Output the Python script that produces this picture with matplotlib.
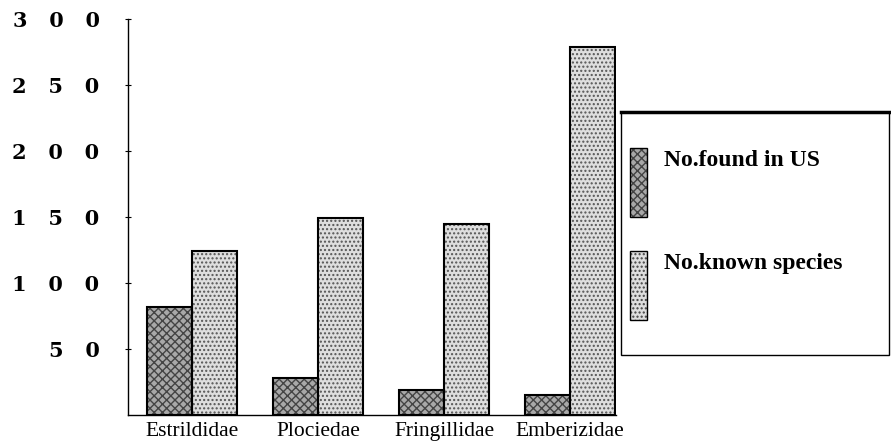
import numpy as np
import matplotlib
matplotlib.use("Agg")
from matplotlib import pyplot as plt
from matplotlib.patches import Rectangle

families = ["Estrildidae", "Plociedae", "Fringillidae", "Emberizidae"]
found_in_us = [82, 28, 19, 15]
known_species = [124, 149, 145, 279]
series = ["No.found in US", "No.known species"]
yticks = [50, 100, 150, 200, 250, 300]
ytick_labels = ["5   0", "1   0   0", "1   5   0", "2   0   0", "2   5   0", "3   0   0"]

dark = "#a8a8a8"
light = "#dedede"

fig = plt.figure(figsize=(8.91, 4.42), dpi=100)
ax = fig.add_axes([128/891, 1 - 415/442, (616-128)/891, (415-19)/442])

x = np.arange(len(families))
w = 0.357

# fill with hatch first, then black outline on top
ax.bar(x - w/2, found_in_us, w, color=dark, edgecolor="#444444", hatch="xxxx", linewidth=0)
ax.bar(x + w/2, known_species, w, color=light, edgecolor="#555555", hatch="....", linewidth=0)
ax.bar(x - w/2, found_in_us, w, fill=False, edgecolor="black", linewidth=1.5)
ax.bar(x + w/2, known_species, w, fill=False, edgecolor="black", linewidth=1.5)

ax.set_xlim(-0.508, 3.365)
ax.set_ylim(0, 300)
ax.set_xticks(x)
ax.set_xticklabels(families, family="Liberation Serif", fontsize=15.5)
ax.tick_params(axis="x", length=0, pad=5)
ax.set_yticks(yticks)
ax.set_yticklabels(ytick_labels, family="DejaVu Serif", fontweight="heavy", fontsize=15)
ax.tick_params(axis="y", direction="inout", length=5, pad=18)
for s in ["top", "right"]:
    ax.spines[s].set_visible(False)
ax.spines["left"].set_linewidth(1)
ax.spines["bottom"].set_linewidth(1)

# legend box drawn by hand in figure coords
H = 442.0
W = 891.0
fig.add_artist(Rectangle((621/W, 1 - 355/H), 268/W, 243/H, transform=fig.transFigure,
                         facecolor="white", edgecolor="black", linewidth=1))
fig.add_artist(plt.Line2D([621/W, 889/W], [1 - 112/H, 1 - 112/H], transform=fig.transFigure,
                          color="black", linewidth=2.5))
legend_y = [148, 251]
for i, (lab, col, hat) in enumerate(zip(series, [dark, light], ["xxxx", "...."])):
    y0 = legend_y[i]
    fig.add_artist(Rectangle((630/W, 1 - (y0 + 69)/H), 17/W, 69/H, transform=fig.transFigure,
                             facecolor=col, edgecolor="#444444", hatch=hat, linewidth=0))
    fig.add_artist(Rectangle((630/W, 1 - (y0 + 69)/H), 17/W, 69/H, transform=fig.transFigure,
                             fill=False, edgecolor="black", linewidth=1))
    fig.text(664/W, 1 - (y0 + 13)/H, lab, family="Liberation Serif", fontweight="bold",
             fontsize=17, va="center", ha="left")

fig.savefig("out.png", dpi=100)
